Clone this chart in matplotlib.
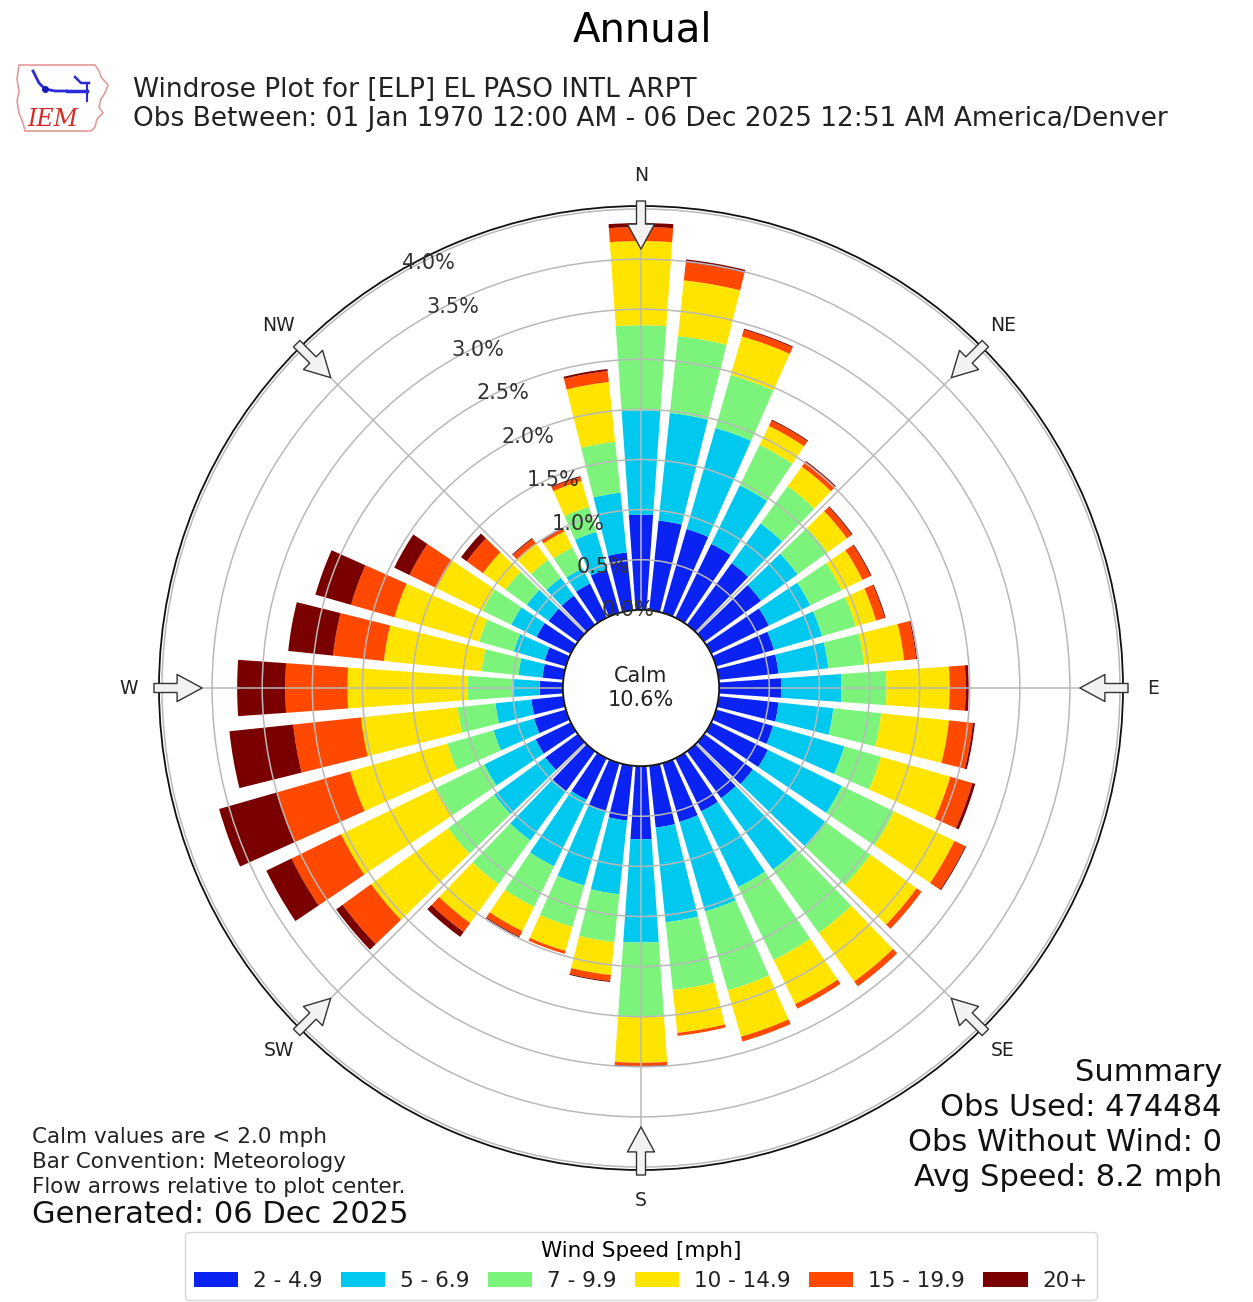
import numpy as np
import matplotlib
matplotlib.use('Agg')
import matplotlib.pyplot as plt
from matplotlib.patches import FancyArrowPatch, ArrowStyle, Polygon

# ---------------- data ----------------
directions = list(range(0, 360, 10))
speed_bins = ['2 - 4.9', '5 - 6.9', '7 - 9.9', '10 - 14.9', '15 - 19.9', '20+']
bin_colors = ['#0a22f2', '#00c8ee', '#7cf47c', '#ffe400', '#ff4800', '#7a0000']

# percent of observations per direction (0, 10, ..., 350 deg) for each speed bin
pct_2_5 = [0.95, 0.90, 0.87, 0.82, 0.76, 0.70, 0.64, 0.60, 0.60, 0.62, 0.60, 0.59,
           0.63, 0.60, 0.58, 0.59, 0.61, 0.62, 0.73, 0.55, 0.50, 0.46, 0.49, 0.40,
           0.39, 0.33, 0.32, 0.23, 0.21, 0.22, 0.38, 0.36, 0.36, 0.38, 0.45, 0.58]
pct_5_7 = [1.04, 1.08, 1.05, 0.65, 0.49, 0.45, 0.46, 0.50, 0.50, 0.60, 0.55, 0.74,
           0.82, 0.89, 0.88, 0.84, 0.93, 0.95, 1.03, 0.74, 0.77, 0.74, 0.61, 0.63,
           0.57, 0.42, 0.36, 0.26, 0.24, 0.32, 0.28, 0.27, 0.22, 0.17, 0.39, 0.60]
pct_7_10 = [0.85, 0.77, 0.55, 0.45, 0.46, 0.37, 0.35, 0.35, 0.36, 0.45, 0.48, 0.38,
            0.58, 0.56, 0.78, 0.81, 0.82, 0.68, 0.74, 0.48, 0.43, 0.45, 0.54, 0.57,
            0.53, 0.48, 0.38, 0.46, 0.37, 0.36, 0.32, 0.26, 0.22, 0.23, 0.26, 0.51]
pct_10_15 = [0.84, 0.56, 0.40, 0.21, 0.24, 0.24, 0.23, 0.21, 0.40, 0.63, 0.68, 0.72,
             0.67, 0.57, 0.60, 0.49, 0.48, 0.43, 0.46, 0.33, 0.25, 0.27, 0.48, 0.95,
             1.06, 1.01, 0.97, 1.20, 0.98, 0.88, 0.51, 0.28, 0.20, 0.18, 0.27, 0.60]
pct_15_20 = [0.14, 0.18, 0.07, 0.06, 0.06, 0.06, 0.09, 0.09, 0.12, 0.16, 0.24, 0.23,
             0.12, 0.06, 0.06, 0.05, 0.05, 0.03, 0.03, 0.06, 0.03, 0.06, 0.11, 0.35,
             0.55, 0.76, 0.68, 0.62, 0.51, 0.45, 0.30, 0.20, 0.06, 0.03, 0.04, 0.11]
pct_20p = [0.04, 0.03, 0.01, 0.01, 0.01, 0.01, 0.01, 0.01, 0.01, 0.03, 0.02, 0.03,
           0.01, 0.00, 0.00, 0.00, 0.00, 0.00, 0.01, 0.01, 0.00, 0.01, 0.06, 0.08,
           0.28, 0.60, 0.64, 0.48, 0.45, 0.37, 0.17, 0.07, 0.01, 0.01, 0.01, 0.02]
series = [pct_2_5, pct_5_7, pct_7_10, pct_10_15, pct_15_20, pct_20p]

calm_pct = 10.6
radial_ticks = [0.0, 0.5, 1.0, 1.5, 2.0, 2.5, 3.0, 3.5, 4.0]
radial_labels = ['0.0%', '0.5%', '1.0%', '1.5%', '2.0%', '2.5%', '3.0%', '3.5%', '4.0%']
compass_names = ['N', 'NE', 'E', 'SE', 'S', 'SW', 'W', 'NW']
compass_deg = [0, 45, 90, 135, 180, 225, 270, 315]

title_top = 'Annual'
title_l1 = 'Windrose Plot for [ELP] EL PASO INTL ARPT'
title_l2 = 'Obs Between: 01 Jan 1970 12:00 AM - 06 Dec 2025 12:51 AM America/Denver'
notes = ['Calm values are < 2.0 mph', 'Bar Convention: Meteorology',
         'Flow arrows relative to plot center.']
generated = 'Generated: 06 Dec 2025'
summary = ['Summary', 'Obs Used: 474484', 'Obs Without Wind: 0', 'Avg Speed: 8.2 mph']

# ---------------- figure ----------------
W, H = 1253, 1302
fig = plt.figure(figsize=(W / 100, H / 100), dpi=100)
fig.patch.set_facecolor('white')

R = 482
cx, cy = 641, 688
ax = fig.add_axes([(cx - R) / W, (H - cy - R) / H, 2 * R / W, 2 * R / H], projection='polar')
ax.set_theta_zero_location('N')
ax.set_theta_direction(-1)

theta = np.deg2rad(directions)
width = np.deg2rad(8.0)
bottom = np.zeros(len(directions))
handles = []
for vals, col, lab in zip(series, bin_colors, speed_bins):
    v = np.array(vals)
    b = ax.bar(theta, v, width=width, bottom=bottom, color=col, edgecolor='none',
               linewidth=0, label=lab, align='center')
    handles.append(b)
    bottom = bottom + v

ax.set_rorigin(-0.78)
ax.set_ylim(0, 4.03)
ax.set_yticks(radial_ticks)
ax.set_yticklabels([])
ax.set_xticks(np.deg2rad(compass_deg))
ax.set_xticklabels([])
ax.tick_params(length=0)
ax.grid(True, color='#b9b9b9', lw=1.1)
ax.spines['polar'].set_color('#111111')
ax.spines['polar'].set_linewidth(1.3)
ax.spines['inner'].set_visible(True)
ax.spines['inner'].set_color('#111111')
ax.spines['inner'].set_linewidth(1.3)

# radial labels
for t, lab in zip(radial_ticks, radial_labels):
    ax.text(np.deg2rad(330), t, lab, ha='left', va='bottom', fontsize=15,
            color='#333333', zorder=5)

# compass labels and flow arrows
for name, d in zip(compass_names, compass_deg):
    th = np.deg2rad(d)
    ax.text(th, 4.33, name, ha='center', va='center', fontsize=13.5,
            color='#222222', clip_on=False)
    arr = FancyArrowPatch(posA=(th, 4.08), posB=(th, 3.60), transform=ax.transData,
                          arrowstyle=ArrowStyle.Simple(head_length=18, head_width=19.5,
                                                       tail_width=6.5),
                          mutation_scale=1, fc='#f2f2f2', ec='#333333', lw=1.0,
                          shrinkA=0, shrinkB=0, clip_on=False, zorder=6)
    ax.add_artist(arr)

# calm text
ax.text(0, -0.78, 'Calm\n%.1f%%' % calm_pct, ha='center', va='center', fontsize=15,
        linespacing=1.2, color='#222222', zorder=6)

# ---------------- texts ----------------
def fy(y):
    return 1 - y / H

fig.text(642 / W, fy(42), title_top, ha='center', va='baseline', fontsize=29)
fig.text(133 / W, fy(97), title_l1, ha='left', va='baseline', fontsize=19, color='#222222')
fig.text(133 / W, fy(126), title_l2, ha='left', va='baseline', fontsize=19, color='#222222')

for i, line in enumerate(notes):
    fig.text(32 / W, fy(1143 + 25 * i), line, ha='left', va='baseline',
             fontsize=15.5, color='#222222')
fig.text(32 / W, fy(1223), generated, ha='left', va='baseline', fontsize=22, color='#111111')

for i, line in enumerate(summary):
    fig.text(1222 / W, fy(1081 + 35 * i), line, ha='right', va='baseline',
             fontsize=22, color='#111111')

# ---------------- logo ----------------
lax = fig.add_axes([15 / W, fy(134), 97 / W, 73 / H])
lax.set_xlim(0, 97)
lax.set_ylim(73, 0)
lax.axis('off')
outline = [(4, 4), (80, 4), (84, 10), (86, 16), (93, 24), (90, 32), (86, 38), (84, 46),
           (88, 52), (82, 58), (80, 66), (76, 70), (10, 70), (8, 62), (4, 52), (2, 40),
           (4, 30), (2, 18)]
lax.add_patch(Polygon(outline, closed=True, fill=False, ec='#e59a9a', lw=1.2))
lax.plot([18, 24, 30, 40, 52], [10, 22, 28, 30, 30], color='#2a2ad8', lw=2)
lax.plot([52, 72], [30, 30], color='#2a2ad8', lw=2.5)
lax.plot([60, 66, 74], [16, 22, 22], color='#2a2ad8', lw=1.8)
lax.plot([72, 72], [24, 40], color='#2a2ad8', lw=1.5)
lax.plot([30], [28], 'o', color='#1a1ab8', ms=4)
lax.text(12, 58, 'IEM', fontsize=17, color='#d42a2a', style='italic',
         family='DejaVu Serif', va='center', ha='left')

# ---------------- legend ----------------
leg = fig.legend(handles=handles, labels=speed_bins, loc='upper center',
                 bbox_to_anchor=(641 / W, fy(1232)), borderaxespad=0, ncol=6,
                 fontsize=15.5, title='Wind Speed [mph]', title_fontsize=15.5,
                 handlelength=2.05, handletextpad=0.7, columnspacing=0.85,
                 frameon=True, fancybox=True, edgecolor='#cccccc')
for t in leg.get_texts():
    t.set_color('#222222')

fig.savefig('out.png', dpi=100, facecolor='white')
